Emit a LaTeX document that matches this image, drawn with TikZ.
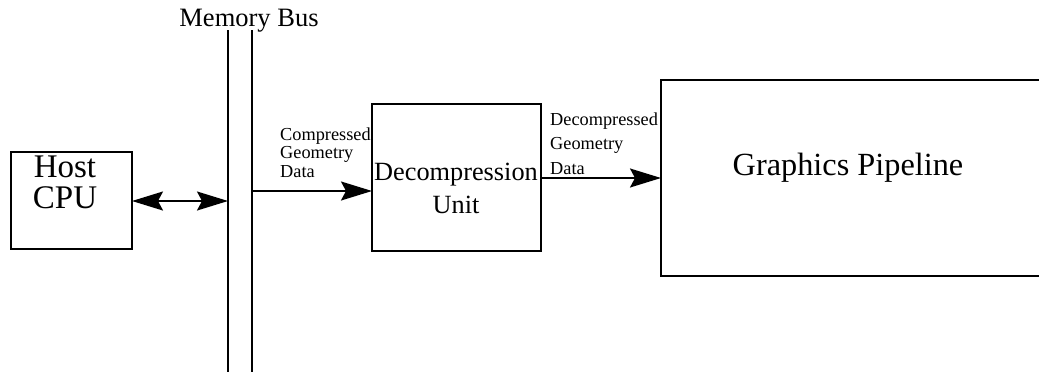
\documentclass[tikz,border=0pt]{standalone}
\usepackage{fontspec}
\setmainfont{Liberation Serif}
\usetikzlibrary{arrows.meta}
\begin{document}
\begin{tikzpicture}[x=1pt,y=-1pt,
  box/.style={draw=black,line width=1.6pt},
  conn/.style={line width=1.8pt},
  big/.style={font=\fontsize{33}{33}\selectfont,anchor=base,inner sep=0pt},
  mid/.style={font=\fontsize{26.3}{33}\selectfont,anchor=base,inner sep=0pt},
  small/.style={font=\fontsize{18.3}{18}\selectfont,anchor=base west,inner sep=0pt}]
\useasboundingbox (0,0) rectangle (1039,372);
% boxes
\draw[box] (11,152) rectangle (132,249);
\coordinate (cpuR) at (132,201);
\node[big] (host) at (65,177) {Host};
\node[big] (cpu) at (65,208) {CPU};
\draw[box] (372,104) rectangle (541,251);
\coordinate (duL) at (372,191);
\coordinate (duR) at (541,178);
\node[mid] (dec) at (456,180) {Decompression};
\node[mid] (unit) at (456,213) {Unit};
\begin{scope}
\clip (0,0) rectangle (1039,372);
\draw[box] (1060,80) -- (661,80) -- (661,276) -- (1060,276);
\end{scope}
\coordinate (gpL) at (661,178);
\node[font=\fontsize{32.3}{32}\selectfont,anchor=base,inner sep=0pt] (gp) at (848,175) {Graphics Pipeline};
% bus
\coordinate (b1t) at (228,30);
\coordinate (b1b) at (228,380);
\coordinate (b2t) at (252,30);
\coordinate (b2b) at (252,380);
\draw[line width=1.6pt] (b1t) -- (b1b);
\draw[line width=1.6pt] (b2t) -- (b2b);
\node[font=\fontsize{26.5}{26}\selectfont,anchor=base,inner sep=0pt] (mb) at (249,27) {Memory Bus};
\coordinate (bus1) at (228,201);
\coordinate (bus2) at (252,191);
% connectors
\draw[conn,{Stealth[length=31pt,width=19pt,inset=5pt]}-{Stealth[length=31pt,width=19pt,inset=5pt]}] (cpuR) -- (bus1);
\draw[conn,-{Stealth[length=31pt,width=19pt,inset=5pt]}] (bus2) -- (duL);
\draw[conn,-{Stealth[length=31pt,width=19pt,inset=5pt]}] (duR) -- (gpL);
% labels
\node[small] (c1) at (280,140) {Compressed};
\node[small] (c2) at (280,158) {Geometry};
\node[small] (c3) at (280,177) {Data};
\node[small] (d1) at (550,125) {Decompressed};
\node[small] (d2) at (550,149) {Geometry};
\node[small] (d3) at (550,174) {Data};
\end{tikzpicture}
\end{document}
